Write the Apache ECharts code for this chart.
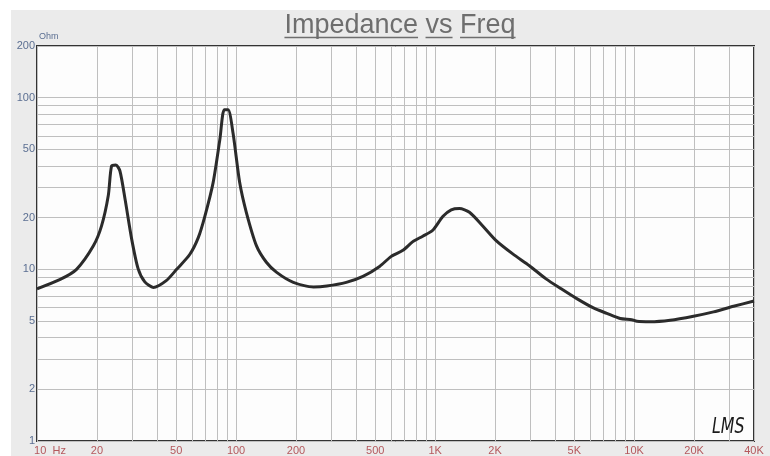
<!DOCTYPE html>
<html><head><meta charset="utf-8">
<script src="https://cdn.jsdelivr.net/npm/echarts@6/dist/echarts.min.js"></script>
<style>
html,body{margin:0;padding:0;background:#fff;}
#wrap{position:relative;width:770px;height:456px;overflow:hidden;}
#bg{position:absolute;left:11px;top:10px;right:0;bottom:0;background:#ebebeb;}
#chart{position:absolute;left:0;top:0;width:770px;height:456px;}
</style></head><body>
<div id="wrap"><div id="bg"></div><div id="chart"></div></div>
<script>
const freqHz = [10, 13, 15.8, 19.2, 21.1, 22.8, 23.7, 24.9, 26.1, 27.7, 29.9, 32.2, 34.8, 38.4, 44.6, 50.3, 58.5, 64.6, 69.8, 76.7, 82.9, 87.2, 91.2, 96.6, 104.3, 112.6, 126.7, 142, 160, 194, 245, 286, 358, 434, 526, 602, 689, 773, 867, 973, 1093, 1205, 1325, 1488, 1735, 2026, 2455, 2978, 3608, 4300, 5150, 6240, 7290, 8510, 9720, 10320, 12020, 15170, 19870, 25050, 31570, 40000];
const impedanceOhm = [7.7, 8.7, 10.0, 13.7, 17.9, 26.8, 40.0, 40.5, 37.4, 25.6, 15.0, 10.1, 8.45, 7.85, 8.6, 10.0, 12.2, 15.3, 20.5, 32, 57, 85, 85, 62, 32, 21.5, 13.7, 11.0, 9.6, 8.4, 7.9, 8.0, 8.4, 9.1, 10.4, 11.9, 12.9, 14.5, 15.6, 16.9, 20.3, 22.2, 22.6, 21.5, 17.9, 14.7, 12.3, 10.5, 8.8, 7.7, 6.75, 5.96, 5.54, 5.17, 5.09, 4.98, 4.95, 5.05, 5.33, 5.65, 6.09, 6.54];
const xLabelValues = [10, 20, 50, 100, 200, 500, 1000, 2000, 5000, 10000, 20000, 40000];
const xGridValues = [10, 20, 30, 40, 50, 60, 70, 80, 90, 100, 200, 300, 400, 500, 600, 700, 800, 900, 1000, 2000, 3000, 4000, 5000, 6000, 7000, 8000, 9000, 10000, 20000, 30000, 40000];
const yLabelValues = [1, 2, 5, 10, 20, 50, 100, 200];
const yGridValues = [1, 2, 3, 4, 5, 6, 7, 8, 9, 10, 20, 30, 40, 50, 60, 70, 80, 90, 100, 200];
const titleText = 'Impedance vs Freq';
const yUnit = 'Ohm';
const xUnit = 'Hz';
const logoText = 'LMS';

const titleFamily = '"Liberation Sans", Arial, sans-serif';
const titleSize = 27;
const titleFont = titleSize + 'px ' + titleFamily;
const titleColor = '#6e6e6e';
const titleCenterX = 400, titleTop = 12;

function fmtX(v) {
  if (v === 10) return '{p| }10  ' + xUnit;
  if (v >= 1000) return (v / 1000) + 'K';
  return String(v);
}

const chart = echarts.init(document.getElementById('chart'), null, {renderer: 'canvas'});

// measure words for underlines
const cvs = document.createElement('canvas').getContext('2d');
cvs.font = titleFont;
const fullW = cvs.measureText(titleText).width;
const titleLeft = titleCenterX - fullW / 2;
const underY = titleTop + 25.5;
const underlines = [];
let acc = '';
titleText.split(' ').forEach((w) => {
  const x0 = titleLeft + cvs.measureText(acc).width;
  const x1 = x0 + cvs.measureText(w).width;
  underlines.push({type: 'line', silent: true, z: 10,
    shape: {x1: x0, y1: underY, x2: x1, y2: underY},
    style: {stroke: titleColor, lineWidth: 1.5}});
  acc += w + ' ';
});

const option = {
  animation: false,
  backgroundColor: 'transparent',
  title: {
    text: titleText, left: titleLeft, top: titleTop, padding: 0,
    textStyle: {fontFamily: titleFamily, fontSize: titleSize, fontWeight: 'normal', color: titleColor}
  },
  grid: {left: 37, right: 16, top: 46, bottom: 13, show: true, backgroundColor: '#fdfdfd', borderColor: '#333', borderWidth: 2, containLabel: false},
  xAxis: {
    type: 'log', logBase: 10, min: 10, max: 40000,
    axisLine: {show: false}, axisTick: {show: false, customValues: xGridValues},
    splitLine: {show: true, lineStyle: {color: '#bfbfbf', width: 1}},
    axisLabel: {customValues: xLabelValues, formatter: fmtX, color: '#b4585c', fontSize: 11, margin: 4,
      fontFamily: '"Liberation Sans", Arial, sans-serif', showMinLabel: true, showMaxLabel: true, hideOverlap: false,
      rich: {p: {width: 26}}}
  },
  yAxis: {
    type: 'log', logBase: 10, min: 1, max: 200,
    name: yUnit, nameLocation: 'end', nameGap: 3,
    nameTextStyle: {color: '#5b6f92', fontSize: 9, align: 'left', padding: [0, 0, 0, 2], fontFamily: '"Liberation Sans", Arial, sans-serif'},
    axisLine: {show: false}, axisTick: {show: false, customValues: yGridValues},
    splitLine: {show: true, lineStyle: {color: '#bfbfbf', width: 1}},
    axisLabel: {customValues: yLabelValues, color: '#5b6f92', fontSize: 11, margin: 2, padding: [0, 0, 5, 0],
      fontFamily: '"Liberation Sans", Arial, sans-serif', showMinLabel: true, showMaxLabel: true, hideOverlap: false}
  },
  graphic: underlines.concat([{
    type: 'text', x: 712, y: 416, scaleX: 0.72, silent: true, z: 10,
    style: {text: logoText, font: 'italic 22px "DejaVu Sans", sans-serif', fill: '#1a1a1a', textVerticalAlign: 'top'}
  }]),
  series: [{
    type: 'line', data: freqHz.map((f, i) => [f, impedanceOhm[i]]),
    showSymbol: false, smooth: 0.25, clip: true,
    lineStyle: {color: '#2b2b2b', width: 3}, z: 5
  }]
};
chart.setOption(option);
</script>
</body></html>
